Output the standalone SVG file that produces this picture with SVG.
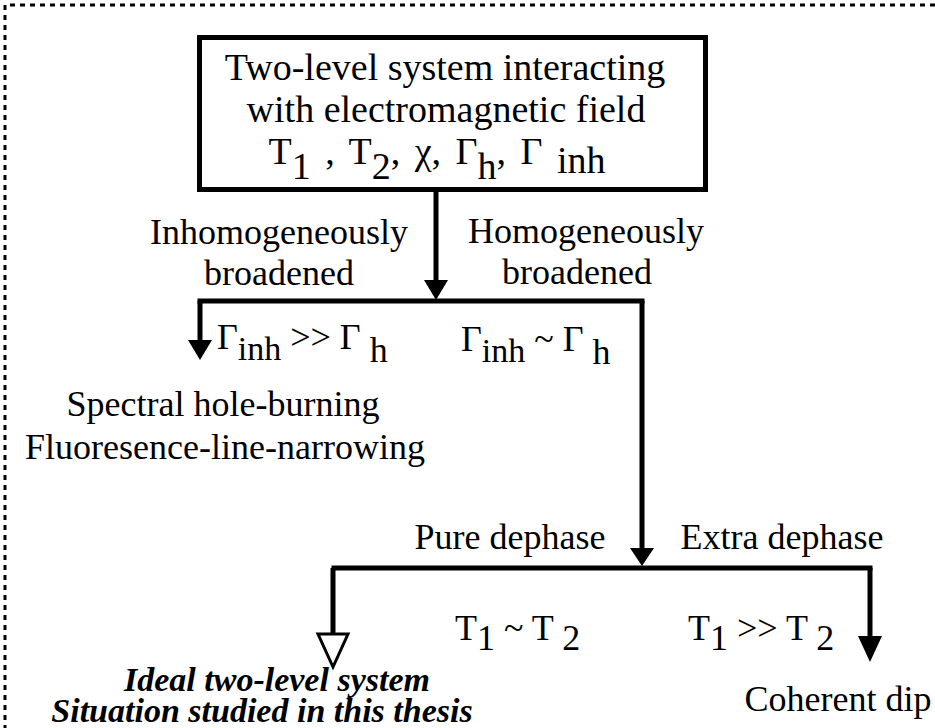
<svg xmlns="http://www.w3.org/2000/svg" width="935" height="728" viewBox="0 0 935 728">
<style>
.t{font-family:"Liberation Serif","Times New Roman",serif;font-size:36px;fill:#000}
.b{font-size:38px}
.bi{font-weight:bold;font-style:italic;font-size:34px}
.ln{stroke:#000;stroke-width:5;fill:none}
.ah{fill:#000;stroke:none}
</style>
<rect width="935" height="728" fill="#fff"/>
<g id="frame">
<path d="M5,760 V5 H940" fill="none" stroke="#000" stroke-width="3" stroke-dasharray="5 5"/>
</g>
<g id="top-node">
<rect x="199.5" y="37.5" width="506" height="152" fill="#fff" stroke="#000" stroke-width="5"/>
<text class="t b" x="445" y="80" text-anchor="middle">Two-level system interacting</text>
<text class="t b" x="446" y="122" text-anchor="middle">with electromagnetic field</text>
<text class="t b" x="437" y="164" text-anchor="middle" word-spacing="5">T<tspan dy="15">1</tspan><tspan dy="-15"> , T</tspan><tspan dy="15">2</tspan><tspan dy="-15">, χ, Γ</tspan><tspan dy="15">h</tspan><tspan dy="-15">, Γ </tspan><tspan dy="9">inh</tspan></text>
</g>
<g id="connectors">
<line class="ln" x1="436" y1="190" x2="436" y2="284"/>
<polygon class="ah" points="424,280 448,280 436,300"/>
<line class="ln" x1="197.5" y1="301" x2="644.5" y2="301"/>
<line class="ln" x1="200" y1="301" x2="200" y2="344"/>
<polygon class="ah" points="188,340 212,340 200,360"/>
<line class="ln" x1="642" y1="301" x2="642" y2="552"/>
<polygon class="ah" points="630,548 654,548 642,566"/>
<line class="ln" x1="331.5" y1="568" x2="872.5" y2="568"/>
<line class="ln" x1="333" y1="568" x2="333" y2="634"/>
<polygon points="318,634 348,634 333,667" fill="#fff" stroke="#000" stroke-width="3"/>
<line class="ln" x1="870" y1="568" x2="870" y2="640"/>
<polygon class="ah" points="858,636 882,636 870,662"/>
</g>
<g id="label-inhomogeneous">
<text class="t" x="279" y="244" text-anchor="middle">Inhomogeneously</text>
<text class="t" x="279" y="285" text-anchor="middle">broadened</text>
</g>
<g id="label-homogeneous">
<text class="t" x="586" y="243" text-anchor="middle">Homogeneously</text>
<text class="t" x="577" y="284" text-anchor="middle">broadened</text>
</g>
<g id="cond-inh">
<text class="t" x="217" y="349">Γ<tspan dy="11" font-size="34">inh</tspan><tspan dy="-11"> &gt;&gt; Γ </tspan><tspan dy="13">h</tspan></text>
</g>
<g id="cond-hom">
<text class="t" x="461" y="351">Γ<tspan dy="11" font-size="34">inh</tspan><tspan dy="-11"> ~ Γ </tspan><tspan dy="13">h</tspan></text>
</g>
<g id="node-spectral">
<text class="t" x="223" y="416" text-anchor="middle" font-size="33">Spectral hole-burning</text>
<text class="t" x="225" y="459" text-anchor="middle" font-size="33">Fluoresence-line-narrowing</text>
</g>
<g id="label-pure">
<text class="t" x="510" y="549" text-anchor="middle" font-size="35">Pure dephase</text>
</g>
<g id="label-extra">
<text class="t" x="782" y="549" text-anchor="middle" font-size="37">Extra dephase</text>
</g>
<g id="cond-t1t2">
<text class="t" x="455" y="640">T<tspan dy="10">1</tspan><tspan dy="-10"> ~ T </tspan><tspan dy="10">2</tspan></text>
</g>
<g id="cond-t1gt">
<text class="t" x="688" y="640">T<tspan dy="10">1</tspan><tspan dy="-10"> &gt;&gt; T </tspan><tspan dy="10">2</tspan></text>
</g>
<g id="node-ideal">
<text class="t bi" x="277" y="691" text-anchor="middle">Ideal two-level system</text>
<text class="t bi" x="262" y="722" text-anchor="middle">Situation studied in this thesis</text>
</g>
<g id="node-coherent">
<text class="t" x="838" y="711" text-anchor="middle">Coherent dip</text>
</g>
</svg>
